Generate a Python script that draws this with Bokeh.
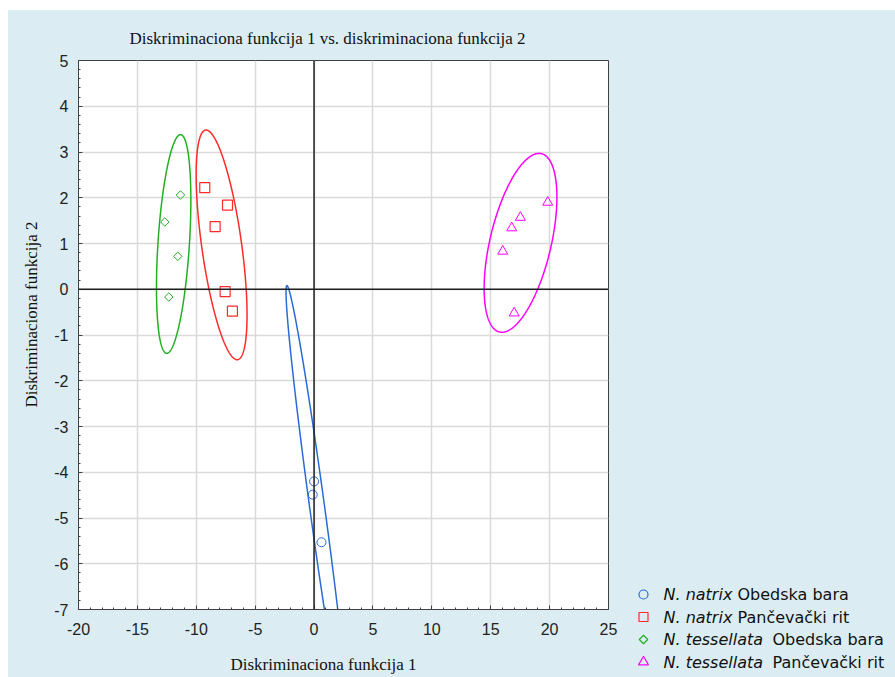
import numpy as np
from bokeh.plotting import figure
from bokeh.layouts import row
from bokeh.models import Span, FixedTicker, Title
from bokeh.core.properties import value
from bokeh.embed import file_html
from bokeh.resources import INLINE

# ---- data ----
natrix_ob_x = [0.00, -0.11, 0.63]
natrix_ob_y = [-4.20, -4.49, -5.53]
natrix_pa_x = [-9.28, -7.35, -8.40, -7.55, -6.93]
natrix_pa_y = [2.22, 1.84, 1.37, -0.05, -0.48]
tess_ob_x = [-11.34, -12.67, -11.57, -12.33]
tess_ob_y = [2.06, 1.47, 0.72, -0.17]
tess_pa_x = [19.84, 17.52, 16.78, 16.02, 16.99]
tess_pa_y = [1.90, 1.57, 1.34, 0.83, -0.52]

# ellipse parameters (centre, half-extents, correlation) per group
ell_cx = [0.25, -7.85, -11.92, 17.53]
ell_cy = [-4.74, 0.97, 0.99, 1.015]
ell_ax = [2.63, 2.16, 1.46, 3.09]
ell_ay = [4.82, 2.51, 2.39, 1.955]
ell_r = [-0.970, -0.61, 0.40, 0.51]

group_italic = ["N. natrix", "N. natrix", "N. tessellata", "N. tessellata"]
group_place = ["Obedska bara", "Pančevački rit", "Obedska bara", "Pančevački rit"]
colors = ["#2a6bd2", "#ff2a2a", "#22b022", "#ff00ff"]

x_ticks = [-20, -15, -10, -5, 0, 5, 10, 15, 20, 25]
y_ticks = [-7, -6, -5, -4, -3, -2, -1, 0, 1, 2, 3, 4, 5]

title_text = "Diskriminaciona funkcija 1 vs. diskriminaciona funkcija 2"
xlabel_text = "Diskriminaciona funkcija 1"
ylabel_text = "Diskriminaciona funkcija 2"

BG = "#dbedf3"
SERIF = "Liberation Serif"
TOP = 50

# ---- main plot ----
p = figure(frame_width=530, frame_height=549, x_range=(-20, 25), y_range=(-7, 5),
           output_backend="svg", toolbar_location=None,
           min_border_left=70, min_border_top=TOP, min_border_right=12, min_border_bottom=68)
p.background_fill_color = "white"
p.border_fill_color = BG
p.outline_line_color = "#404040"
p.outline_line_width = 1

minor_x = [v for v in range(-20, 26) if v % 5 != 0]
minor_y = [round(-7 + 0.2 * i, 1) for i in range(61)]
p.xaxis.ticker = FixedTicker(ticks=x_ticks, minor_ticks=minor_x)
p.yaxis.ticker = FixedTicker(ticks=y_ticks, minor_ticks=minor_y)
p.xaxis.major_label_overrides = {v: str(v) for v in x_ticks}
p.yaxis.major_label_overrides = {v: str(v) for v in y_ticks}
for ax in (p.xaxis, p.yaxis):
    ax.axis_line_color = "#404040"
    ax.major_tick_in = 4
    ax.major_tick_out = 0
    ax.minor_tick_in = 2
    ax.minor_tick_out = 0
    ax.major_tick_line_color = "#404040"
    ax.minor_tick_line_color = "#404040"
    ax.major_label_text_font = "Liberation Sans"
    ax.major_label_text_font_size = "16px"
    ax.major_label_text_color = "#222222"
p.yaxis.major_label_standoff = 10
p.xaxis.major_label_standoff = 13

p.xgrid.grid_line_color = "#dadada"
p.ygrid.grid_line_color = "#dadada"
p.xgrid.grid_line_width = 1.5
p.ygrid.grid_line_width = 1.5

p.add_layout(Span(location=0, dimension="height", line_color="#202020", line_width=1.5))
p.add_layout(Span(location=0, dimension="width", line_color="#202020", line_width=1.5))

# ellipses
t = np.linspace(0, 2 * np.pi, 361)
for cx, cy, ax_, ay_, r, c in zip(ell_cx, ell_cy, ell_ax, ell_ay, ell_r, colors):
    ex = cx + ax_ * np.cos(t)
    ey = cy + ay_ * (r * np.cos(t) + np.sqrt(1 - r * r) * np.sin(t))
    p.line(ex, ey, line_color=c, line_width=1.5)

# points
p.scatter(natrix_ob_x, natrix_ob_y, marker="circle", size=9, fill_color=None,
          line_color=colors[0], line_width=1)
p.scatter(natrix_pa_x, natrix_pa_y, marker="square", size=10, fill_color=None,
          line_color=colors[1], line_width=1.2)
p.scatter(tess_ob_x, tess_ob_y, marker="square", angle=np.pi / 4, size=6, fill_color=None,
          line_color=colors[2], line_width=1)
p.scatter(tess_pa_x, tess_pa_y, marker="triangle", size=10, fill_color=None,
          line_color=colors[3], line_width=1)

# titles
p.title.text = title_text
p.title.text_font = SERIF
p.title.text_font_size = "17px"
p.title.text_font_style = "normal"
p.title.text_color = "#111111"
p.title.align = "left"
p.title.offset = 51
p.title.standoff = 26

p.add_layout(Title(text=xlabel_text, text_font=SERIF, text_font_size="17px",
                   text_font_style="normal", text_color="#111111", align="left",
                   offset=152, vertical_align="top", standoff=34), "below")
p.add_layout(Title(text=ylabel_text, text_font=SERIF, text_font_size="17px",
                   text_font_style="normal", text_color="#111111", align="left",
                   offset=202, standoff=22), "left")

# ---- legend panel: frame top aligned with the plot frame; coordinates in page pixels ----
leg = figure(frame_width=275, frame_height=667 - TOP, x_range=(620, 895), y_range=(677, 10 + TOP),
             output_backend="svg", toolbar_location=None, min_border=0, min_border_top=TOP,
             x_axis_location=None, y_axis_location=None, title=None)
leg.background_fill_color = BG
leg.border_fill_color = BG
leg.outline_line_color = None
leg.xgrid.visible = False
leg.ygrid.visible = False

rows = [594, 616.5, 639, 661.5]
markers = ["circle", "square", "square", "triangle"]
msizes = [9, 9, 6, 10]
angles = [0, 0, np.pi / 4, 0]
for i in range(4):
    leg.scatter([643], [rows[i]], marker=markers[i], size=msizes[i], angle=angles[i],
                fill_color=None, line_color=colors[i], line_width=1.2)
leg.text(x=[663] * 4, y=rows, text=group_italic, text_font=value("DejaVu Sans"),
         text_font_size="16px", text_font_style=value("italic"), text_align="left",
         text_baseline="middle", text_color="#111111")
place_x = [737, 737, 772, 772]
leg.text(x=place_x, y=rows, text=group_place, text_font=value("DejaVu Sans"),
         text_font_size="16px", text_align="left", text_baseline="middle",
         text_color="#111111")

layout = row(p, leg, margin=(10, 0, 0, 8), styles={"background-color": BG})
open("out.html", "w").write(file_html(layout, INLINE))
